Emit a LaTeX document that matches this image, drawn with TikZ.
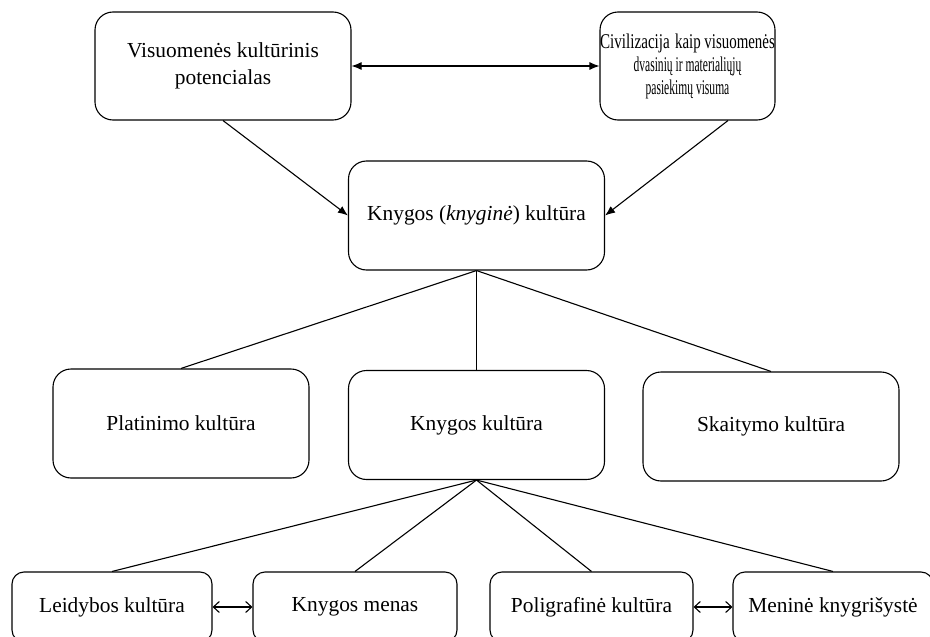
\documentclass[tikz,border=0pt]{standalone}
\usepackage{fontspec}
\setmainfont{Liberation Serif}
\usetikzlibrary{arrows.meta}
\newcommand{\narrowtext}[2]{\scalebox{#1}[1]{#2}}

\begin{document}
\begin{tikzpicture}[x=1pt,y=1pt,line width=1.1pt]
\tikzstyle{every node}+=[inner sep=0pt]
\tikzstyle{box}=[draw,rounded corners=18pt,align=center,font=\fontsize{21.4}{27}\selectfont]
\tikzstyle{bigbox}=[box,minimum width=256pt,minimum height=109pt]
\tikzstyle{smallbox}=[box,rounded corners=12pt,minimum width=202pt,minimum height=70pt]
\tikzstyle{arr}=[-{Latex[length=10pt,width=8pt]}]
\tikzstyle{twoarr}=[{Latex[length=10pt,width=8pt]}-{Latex[length=10pt,width=8pt]}]
\tikzstyle{twobarb}=[{Straight Barb[length=6pt,width=11pt]}-{Straight Barb[length=6pt,width=11pt]}]
\useasboundingbox (0,0) rectangle (930,-637);
\node [bigbox,minimum height=108pt] (vis) at (223,-66) {Visuomenės kultūrinis\\potencialas};
\node [box,minimum width=175pt,minimum height=108pt,font=\fontsize{21}{23}\selectfont] (civ) at (687.5,-66)
  {\narrowtext{0.72}{Civilizacija} \narrowtext{0.71}{kaip visuomenės}\\
   \narrowtext{0.55}{dvasinių ir materialiųjų}\\
   \narrowtext{0.55}{pasiekimų visuma}};
\node [bigbox] (kk) at (476.5,-215.5) {Knygos (\textit{knyginė}) kultūra};
\node [bigbox] (plat) at (181,-423.5) {Platinimo kultūra};
\node [bigbox] (knyg) at (476.5,-425) {Knygos kultūra};
\node [bigbox] (skait) at (771,-426.5) {Skaitymo kultūra};
\node [smallbox,minimum width=200pt] (leid) at (112,-607) {Leidybos kultūra};
\node [smallbox,minimum width=204pt] (menas) at (355,-607) {Knygos menas};
\node [smallbox,minimum width=203pt] (polig) at (591.5,-607) {Poligrafinė kultūra};
\node [smallbox,minimum width=200pt] (menine) at (833,-607) {Meninė knygrišystė};
\draw [twoarr] (vis.east) -- (civ.west);
\draw [arr] (vis.south) -- (kk.west);
\draw [arr] ([xshift=40.5pt]civ.south) -- (kk.east);
\draw (kk.south) -- (plat.north);
\draw (kk.south) -- (knyg.north);
\draw (kk.south) -- (skait.north);
\draw (knyg.south) -- (leid.north);
\draw (knyg.south) -- (menas.north);
\draw (knyg.south) -- (polig.north);
\draw (knyg.south) -- (menine.north);
\draw [twobarb] (leid.east) -- (menas.west);
\draw [twobarb] (polig.east) -- (menine.west);
\end{tikzpicture}
\end{document}
